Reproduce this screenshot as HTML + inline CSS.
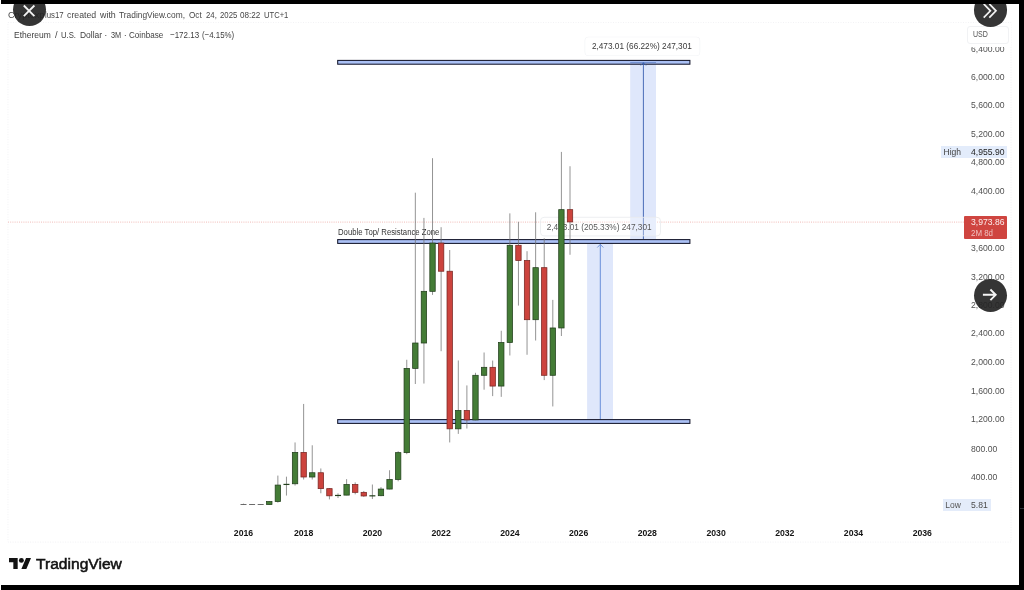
<!DOCTYPE html>
<html><head><meta charset="utf-8"><title>Ethereum / U.S. Dollar chart</title>
<style>
html,body{margin:0;padding:0}
body{width:1024px;height:590px;position:relative;overflow:hidden;background:#fff;font-family:"Liberation Sans",sans-serif;color:#3a3a3a}
.abs{position:absolute;white-space:nowrap}
.bar{position:absolute;background:#000}
.pl{position:absolute;left:970.8px;font-size:9.1px;line-height:12px;height:12px;color:#505050;white-space:nowrap;transform-origin:0 50%;transform:scaleX(0.946)}
.yr{position:absolute;top:527px;width:40px;text-align:center;font-size:8.7px;font-weight:bold;line-height:12px;color:#151515;white-space:nowrap}
.w{position:absolute;white-space:nowrap;transform-origin:0 50%}
.circ{position:absolute;border-radius:50%;background:rgba(36,36,36,0.92)}
</style></head><body>
<div id="sheet" style="position:absolute;left:0;top:0;width:1024px;height:590px;filter:blur(0.35px)">
<span class="w" id="a0" style="left:7.9px;top:8.0px;font-size:9.9px;line-height:13px;color:#464646;transform:scaleX(0.9212)">Cryptoxp</span><span class="w" id="a1" style="left:44.9px;top:8.0px;font-size:9.9px;line-height:13px;color:#464646;transform:scaleX(0.7878)">lus17</span>
<span class="w" id="a2" style="left:66.7px;top:8.0px;font-size:9.9px;line-height:13px;color:#464646;transform:scaleX(0.8861)">created</span>
<span class="w" id="a3" style="left:99.7px;top:8.0px;font-size:9.9px;line-height:13px;color:#464646;transform:scaleX(0.8996)">with</span>
<span class="w" id="a4" style="left:119.3px;top:8.0px;font-size:9.9px;line-height:13px;color:#464646;transform:scaleX(0.8467)">TradingView.com,</span>
<span class="w" id="a5" style="left:189.1px;top:8.0px;font-size:9.9px;line-height:13px;color:#464646;transform:scaleX(0.8260)">Oct</span>
<span class="w" id="a6" style="left:205.6px;top:8.0px;font-size:9.9px;line-height:13px;color:#464646;transform:scaleX(0.7863)">24,</span>
<span class="w" id="a7" style="left:219.8px;top:8.0px;font-size:9.9px;line-height:13px;color:#464646;transform:scaleX(0.7875)">2025</span>
<span class="w" id="a8" style="left:240.2px;top:8.0px;font-size:9.9px;line-height:13px;color:#464646;transform:scaleX(0.8212)">08:22</span>
<span class="w" id="a9" style="left:264px;top:8.0px;font-size:9.9px;line-height:13px;color:#464646;transform:scaleX(0.7699)">UTC+1</span>
<span class="w" id="b0" style="left:14.1px;top:28.65px;font-size:9.3px;line-height:12px;color:#3e3e3e;transform:scaleX(0.9129)">Ethereum</span>
<span class="w" style="left:56.35px;top:28.65px;font-size:9.3px;line-height:12px;color:#444;transform:translateX(-50%)">/</span>
<span class="w" id="b2" style="left:61px;top:28.65px;font-size:9.3px;line-height:12px;color:#3e3e3e;transform:scaleX(0.8290)">U.S.</span>
<span class="w" id="b3" style="left:79.6px;top:28.65px;font-size:9.3px;line-height:12px;color:#3e3e3e;transform:scaleX(0.9096)">Dollar</span>
<span class="w" style="left:105.85px;top:28.65px;font-size:9.3px;line-height:12px;color:#444;transform:translateX(-50%)">·</span>
<span class="w" id="b5" style="left:110.9px;top:28.65px;font-size:9.3px;line-height:12px;color:#3e3e3e;transform:scaleX(0.7894)">3M</span>
<span class="w" style="left:125.25px;top:28.65px;font-size:9.3px;line-height:12px;color:#444;transform:translateX(-50%)">·</span>
<span class="w" id="b7" style="left:129.3px;top:28.65px;font-size:9.3px;line-height:12px;color:#3e3e3e;transform:scaleX(0.8706)">Coinbase</span>
<span class="w" id="b8" style="left:169.9px;top:28.65px;font-size:9.3px;line-height:12px;color:#3e3e3e;transform:scaleX(0.8590)">−172.13</span>
<span class="w" id="b9" style="left:202px;top:28.65px;font-size:9.3px;line-height:12px;color:#3e3e3e;transform:scaleX(0.8477)">(−4.15%)</span>
<div class="abs" id="dt" style="left:337.8px;top:225.9px;font-size:8.5px;line-height:12px;color:#333;transform-origin:0 50%;transform:scaleX(0.9106)">Double Top/ Resistance Zone</div>
<svg width="1024" height="590" viewBox="0 0 1024 590" style="position:absolute;left:0;top:0">
<rect x="8" y="22.5" width="1003" height="519.6" fill="none" stroke="#f0f1f4" stroke-width="0.9" stroke-dasharray="1 1.5"/>
<line x1="8" x2="964" y1="222.1" y2="222.1" stroke="#eeaaa6" stroke-width="0.8" stroke-dasharray="1 1.2"/>
<!-- measure upper -->
<rect x="630.2" y="62.5" width="25.8" height="176.5" fill="#dfe7fb"/>
<!-- measure lower -->
<rect x="587.1" y="243.5" width="25.9" height="175.7" fill="#dfe7fb"/>
<line x1="600.3" x2="600.3" y1="244.5" y2="419" stroke="#5b84d6" stroke-width="0.9"/>
<path d="M597.3 247.5 L600.3 244.3 L603.3 247.5" fill="none" stroke="#5b84d6" stroke-width="0.8"/>
<rect x="337.7" y="60.40" width="352.2" height="3.8" fill="#abc1f5" stroke="#14162b" stroke-width="1.05"/>
<rect x="337.7" y="239.60" width="352.2" height="3.8" fill="#abc1f5" stroke="#14162b" stroke-width="1.05"/>
<rect x="337.7" y="419.60" width="352.2" height="3.8" fill="#abc1f5" stroke="#14162b" stroke-width="1.05"/>
<line x1="643.4" x2="643.4" y1="62.7" y2="239" stroke="#3a5fb0" stroke-width="0.9"/>
<path d="M640.8 65.5 L643.4 62.7 L646 65.5" fill="none" stroke="#3a5fb0" stroke-width="0.8"/>
<line x1="630.2" x2="656" y1="62.5" y2="62.5" stroke="#3a5fb0" stroke-width="0.7" stroke-opacity="0.7"/>
<!-- lower tooltip (behind candles) -->
<rect x="540.5" y="217.3" width="120" height="18.6" rx="3.5" fill="#ffffff" fill-opacity="0.3" stroke="#e9ebee" stroke-width="0.8"/>
<text x="546.7" y="230.15" font-family="Liberation Sans, sans-serif" font-size="9.4" fill="#5a5a5a" textLength="105" lengthAdjust="spacingAndGlyphs">2,473.01 (205.33%) 247,301</text>
<line x1="243.50" x2="243.50" y1="503.67" y2="504.75" stroke="#707070" stroke-width="0.75"/>
<rect x="240.50" y="504.08" width="6" height="0.9" fill="#5c5c5c"/>
<line x1="252.09" x2="252.09" y1="504.10" y2="504.60" stroke="#707070" stroke-width="0.75"/>
<rect x="249.09" y="504.03" width="6" height="0.9" fill="#5c5c5c"/>
<line x1="260.68" x2="260.68" y1="504.21" y2="504.74" stroke="#707070" stroke-width="0.75"/>
<rect x="257.68" y="504.03" width="6" height="0.9" fill="#5c5c5c"/>
<line x1="269.28" x2="269.28" y1="501.18" y2="504.60" stroke="#707070" stroke-width="0.75"/>
<rect x="266.58" y="501.60" width="5.4" height="2.99" fill="#447c36" stroke="#223f1c" stroke-width="0.75"/>
<line x1="277.87" x2="277.87" y1="475.59" y2="502.67" stroke="#707070" stroke-width="0.75"/>
<rect x="275.17" y="485.07" width="5.4" height="16.54" fill="#447c36" stroke="#223f1c" stroke-width="0.75"/>
<line x1="286.46" x2="286.46" y1="476.66" y2="495.55" stroke="#707070" stroke-width="0.75"/>
<rect x="283.46" y="483.83" width="6" height="1.2" fill="#223f1c"/>
<line x1="295.05" x2="295.05" y1="442.44" y2="485.57" stroke="#707070" stroke-width="0.75"/>
<rect x="292.35" y="452.42" width="5.4" height="31.36" fill="#447c36" stroke="#223f1c" stroke-width="0.75"/>
<line x1="303.64" x2="303.64" y1="403.95" y2="479.51" stroke="#707070" stroke-width="0.75"/>
<rect x="300.94" y="452.42" width="5.4" height="24.59" fill="#cc433d" stroke="#782622" stroke-width="0.75"/>
<line x1="312.24" x2="312.24" y1="445.29" y2="479.51" stroke="#707070" stroke-width="0.75"/>
<rect x="309.54" y="472.74" width="5.4" height="4.28" fill="#447c36" stroke="#223f1c" stroke-width="0.75"/>
<line x1="320.83" x2="320.83" y1="468.46" y2="493.26" stroke="#707070" stroke-width="0.75"/>
<rect x="318.13" y="472.74" width="5.4" height="15.89" fill="#cc433d" stroke="#782622" stroke-width="0.75"/>
<line x1="329.42" x2="329.42" y1="488.06" y2="499.39" stroke="#707070" stroke-width="0.75"/>
<rect x="326.72" y="488.63" width="5.4" height="7.20" fill="#cc433d" stroke="#782622" stroke-width="0.75"/>
<line x1="338.01" x2="338.01" y1="493.34" y2="498.04" stroke="#707070" stroke-width="0.75"/>
<rect x="335.01" y="494.87" width="6" height="1.2" fill="#223f1c"/>
<line x1="346.60" x2="346.60" y1="479.15" y2="495.26" stroke="#707070" stroke-width="0.75"/>
<rect x="343.90" y="484.50" width="5.4" height="10.62" fill="#447c36" stroke="#223f1c" stroke-width="0.75"/>
<line x1="355.20" x2="355.20" y1="482.36" y2="494.33" stroke="#707070" stroke-width="0.75"/>
<rect x="352.50" y="484.50" width="5.4" height="7.84" fill="#cc433d" stroke="#782622" stroke-width="0.75"/>
<line x1="363.79" x2="363.79" y1="490.98" y2="496.90" stroke="#707070" stroke-width="0.75"/>
<rect x="361.09" y="492.34" width="5.4" height="3.64" fill="#cc433d" stroke="#782622" stroke-width="0.75"/>
<line x1="372.38" x2="372.38" y1="484.50" y2="499.04" stroke="#707070" stroke-width="0.75"/>
<rect x="369.38" y="495.23" width="6" height="1.2" fill="#223f1c"/>
<line x1="380.97" x2="380.97" y1="487.13" y2="496.26" stroke="#707070" stroke-width="0.75"/>
<rect x="378.27" y="489.06" width="5.4" height="6.63" fill="#447c36" stroke="#223f1c" stroke-width="0.75"/>
<line x1="389.56" x2="389.56" y1="470.24" y2="489.34" stroke="#707070" stroke-width="0.75"/>
<rect x="386.86" y="479.51" width="5.4" height="9.55" fill="#447c36" stroke="#223f1c" stroke-width="0.75"/>
<line x1="398.16" x2="398.16" y1="451.21" y2="481.29" stroke="#707070" stroke-width="0.75"/>
<rect x="395.46" y="452.64" width="5.4" height="26.87" fill="#447c36" stroke="#223f1c" stroke-width="0.75"/>
<line x1="406.75" x2="406.75" y1="359.76" y2="454.20" stroke="#707070" stroke-width="0.75"/>
<rect x="404.05" y="368.39" width="5.4" height="84.25" fill="#447c36" stroke="#223f1c" stroke-width="0.75"/>
<line x1="415.34" x2="415.34" y1="192.69" y2="384.00" stroke="#707070" stroke-width="0.75"/>
<rect x="412.64" y="343.01" width="5.4" height="25.37" fill="#447c36" stroke="#223f1c" stroke-width="0.75"/>
<line x1="423.93" x2="423.93" y1="217.92" y2="383.57" stroke="#707070" stroke-width="0.75"/>
<rect x="421.23" y="291.33" width="5.4" height="51.68" fill="#447c36" stroke="#223f1c" stroke-width="0.75"/>
<line x1="432.52" x2="432.52" y1="158.19" y2="294.90" stroke="#707070" stroke-width="0.75"/>
<rect x="429.82" y="243.08" width="5.4" height="48.26" fill="#447c36" stroke="#223f1c" stroke-width="0.75"/>
<line x1="441.12" x2="441.12" y1="227.18" y2="351.21" stroke="#707070" stroke-width="0.75"/>
<rect x="438.42" y="243.08" width="5.4" height="28.15" fill="#cc433d" stroke="#782622" stroke-width="0.75"/>
<line x1="449.71" x2="449.71" y1="249.99" y2="442.44" stroke="#707070" stroke-width="0.75"/>
<rect x="447.01" y="271.23" width="5.4" height="157.60" fill="#cc433d" stroke="#782622" stroke-width="0.75"/>
<line x1="458.30" x2="458.30" y1="360.47" y2="433.89" stroke="#707070" stroke-width="0.75"/>
<rect x="455.60" y="410.51" width="5.4" height="18.32" fill="#447c36" stroke="#223f1c" stroke-width="0.75"/>
<line x1="466.89" x2="466.89" y1="385.42" y2="428.54" stroke="#707070" stroke-width="0.75"/>
<rect x="464.19" y="410.51" width="5.4" height="9.41" fill="#cc433d" stroke="#782622" stroke-width="0.75"/>
<line x1="475.48" x2="475.48" y1="372.80" y2="420.35" stroke="#707070" stroke-width="0.75"/>
<rect x="472.78" y="375.30" width="5.4" height="44.62" fill="#447c36" stroke="#223f1c" stroke-width="0.75"/>
<line x1="484.08" x2="484.08" y1="352.49" y2="389.70" stroke="#707070" stroke-width="0.75"/>
<rect x="481.38" y="367.32" width="5.4" height="7.98" fill="#447c36" stroke="#223f1c" stroke-width="0.75"/>
<line x1="492.67" x2="492.67" y1="360.54" y2="396.11" stroke="#707070" stroke-width="0.75"/>
<rect x="489.97" y="367.32" width="5.4" height="18.75" fill="#cc433d" stroke="#782622" stroke-width="0.75"/>
<line x1="501.26" x2="501.26" y1="330.75" y2="396.83" stroke="#707070" stroke-width="0.75"/>
<rect x="498.56" y="342.51" width="5.4" height="43.55" fill="#447c36" stroke="#223f1c" stroke-width="0.75"/>
<line x1="509.85" x2="509.85" y1="213.36" y2="355.48" stroke="#707070" stroke-width="0.75"/>
<rect x="507.15" y="245.29" width="5.4" height="97.22" fill="#447c36" stroke="#223f1c" stroke-width="0.75"/>
<line x1="518.44" x2="518.44" y1="221.84" y2="305.59" stroke="#707070" stroke-width="0.75"/>
<rect x="515.74" y="245.29" width="5.4" height="15.18" fill="#cc433d" stroke="#782622" stroke-width="0.75"/>
<line x1="527.04" x2="527.04" y1="251.20" y2="354.77" stroke="#707070" stroke-width="0.75"/>
<rect x="524.34" y="260.47" width="5.4" height="59.23" fill="#cc433d" stroke="#782622" stroke-width="0.75"/>
<line x1="535.63" x2="535.63" y1="212.29" y2="340.52" stroke="#707070" stroke-width="0.75"/>
<rect x="532.93" y="267.67" width="5.4" height="52.03" fill="#447c36" stroke="#223f1c" stroke-width="0.75"/>
<line x1="544.22" x2="544.22" y1="238.23" y2="380.08" stroke="#707070" stroke-width="0.75"/>
<rect x="541.52" y="267.67" width="5.4" height="107.63" fill="#cc433d" stroke="#782622" stroke-width="0.75"/>
<line x1="552.81" x2="552.81" y1="299.89" y2="406.45" stroke="#707070" stroke-width="0.75"/>
<rect x="550.11" y="327.97" width="5.4" height="47.33" fill="#447c36" stroke="#223f1c" stroke-width="0.75"/>
<line x1="561.40" x2="561.40" y1="151.92" y2="336.03" stroke="#707070" stroke-width="0.75"/>
<rect x="558.70" y="209.65" width="5.4" height="118.32" fill="#447c36" stroke="#223f1c" stroke-width="0.75"/>
<line x1="570.00" x2="570.00" y1="166.24" y2="254.77" stroke="#707070" stroke-width="0.75"/>
<rect x="567.30" y="209.65" width="5.4" height="12.27" fill="#cc433d" stroke="#782622" stroke-width="0.75"/>
<!-- upper tooltip -->
<rect x="584.6" y="36.8" width="115.6" height="19.2" rx="4" fill="#f1f2f5"/><rect x="585.2" y="37.2" width="114.4" height="18.2" rx="3.5" fill="#ffffff"/>
<text x="591.9" y="49.3" font-family="Liberation Sans, sans-serif" font-size="9.4" fill="#3a3a3a" textLength="100" lengthAdjust="spacingAndGlyphs">2,473.01 (66.22%) 247,301</text>
</svg>
<!-- price axis -->
<div style="position:absolute;left:964px;top:40px;width:47px;height:14px;overflow:hidden"><div class="pl" style="left:6.8px;top:2.5px">6,400.00</div></div>
<div class="pl" style="top:70.90px">6,000.00</div>
<div class="pl" style="top:98.95px">5,600.00</div>
<div class="pl" style="top:127.70px">5,200.00</div>
<div class="pl" style="top:156.30px">4,800.00</div>
<div class="pl" style="top:184.90px">4,400.00</div>
<div class="pl" style="top:241.60px">3,600.00</div>
<div class="pl" style="top:270.50px">3,200.00</div>
<div class="pl" style="top:298.50px">2,800.00</div>
<div class="pl" style="top:327.25px">2,400.00</div>
<div class="pl" style="top:355.80px">2,000.00</div>
<div class="pl" style="top:384.70px">1,600.00</div>
<div class="pl" style="top:413.30px">1,200.00</div>
<div class="pl" style="top:442.50px">800.00</div>
<div class="pl" style="top:470.65px">400.00</div>
<div class="abs" style="left:964px;top:24px;width:47px;height:23px;background:#fff"></div>
<div class="abs" style="left:966.6px;top:26.2px;width:42px;height:18.2px;box-sizing:border-box;border:1px solid #f1f2f4;border-radius:3px;background:#fff"></div>
<div class="abs" style="left:973px;top:29.4px;font-size:8.2px;line-height:12px;color:#555;transform-origin:0 50%;transform:scaleX(0.86)">USD</div>
<div class="abs" style="left:941.3px;top:145.8px;width:66px;height:12px;background:#e3ecfb"></div>
<div class="abs" style="left:943.6px;top:145.8px;font-size:8.5px;line-height:12px;color:#444">High</div>
<div class="pl" style="top:145.8px;color:#222">4,955.90</div>
<div class="abs" style="left:942.9px;top:498.5px;width:48px;height:12.5px;background:#e4ecfa"></div>
<div class="abs" style="left:945.3px;top:498.8px;font-size:8.5px;line-height:12px;color:#555">Low</div>
<div class="pl" style="top:498.8px;color:#4c4c4c">5.81</div>
<div class="abs" style="left:964.4px;top:215.7px;width:43px;height:23px;background:#cf4540;border-radius:1px"></div>
<div class="pl" style="top:216.3px;color:#fbeeed">3,973.86</div>
<div class="pl" style="top:226.7px;color:#f0c2bf;font-size:8.4px">2M 8d</div>
<div class="yr" style="left:223.5px">2016</div>
<div class="yr" style="left:283.6px">2018</div>
<div class="yr" style="left:352.4px">2020</div>
<div class="yr" style="left:421.1px">2022</div>
<div class="yr" style="left:489.9px">2024</div>
<div class="yr" style="left:558.6px">2026</div>
<div class="yr" style="left:627.3px">2028</div>
<div class="yr" style="left:696.1px">2030</div>
<div class="yr" style="left:764.8px">2032</div>
<div class="yr" style="left:833.5px">2034</div>
<div class="yr" style="left:902.3px">2036</div>
<!-- logo -->
<svg class="abs" style="left:9.3px;top:558.3px" width="22" height="10.9" viewBox="0 4 35.5 18" preserveAspectRatio="none"><path fill="#131313" d="M14 22H7V11H0V4h14v18zM28 22h-8l7.5-18h8L28 22z"/><circle cx="20" cy="8" r="4" fill="#131313"/></svg>
<div class="abs" id="tv" style="left:35.6px;top:555px;font-size:15.4px;line-height:18px;font-weight:normal;-webkit-text-stroke:0.55px #131313;color:#131313;letter-spacing:0px;transform-origin:0 50%;transform:scaleX(1.0141)">TradingView</div>
</div>
<!-- circle buttons -->
<div class="circ" style="left:12.5px;top:-6.6px;width:33px;height:33px"></div>
<svg class="abs" style="left:11.9px;top:-7.5px" width="34" height="34" viewBox="0 0 34 34"><path d="M11.8 12.5 L22.4 23.1 M22.4 12.5 L11.8 23.1" stroke="#f4f4f4" stroke-width="1.8" fill="none"/></svg>
<div class="circ" style="left:973.6px;top:-6.8px;width:33.5px;height:33.5px"></div>
<svg class="abs" style="left:973.3px;top:-7.3px" width="34" height="34" viewBox="0 0 34 34"><path d="M10.7 10.9 L17.4 17.8 L10.7 24.7 M16.3 10.9 L23.0 17.8 L16.3 24.7" stroke="#f2f2f2" stroke-width="1.7" fill="none"/></svg>
<div class="circ" style="left:973.85px;top:278.6px;width:33.2px;height:33.2px"></div>
<svg class="abs" style="left:973.85px;top:278.6px" width="34" height="34" viewBox="0 0 34 34"><path d="M8.9 15.8 H21.3 M16.4 10.5 L21.7 15.8 L16.4 21.1" stroke="#f4f4f4" stroke-width="1.9" fill="none"/></svg>
<!-- black frame -->
<div class="bar" style="left:1px;top:0;width:1023px;height:3.6px"></div>
<div class="bar" style="left:1018.8px;top:0;width:5.2px;height:590px"></div>
<div class="bar" style="left:1px;top:585.3px;width:1023px;height:4.7px"></div>
<div style="position:absolute;left:1019.5px;top:508px;width:4.5px;height:1px;background:#2b3035"></div>
</body></html>
